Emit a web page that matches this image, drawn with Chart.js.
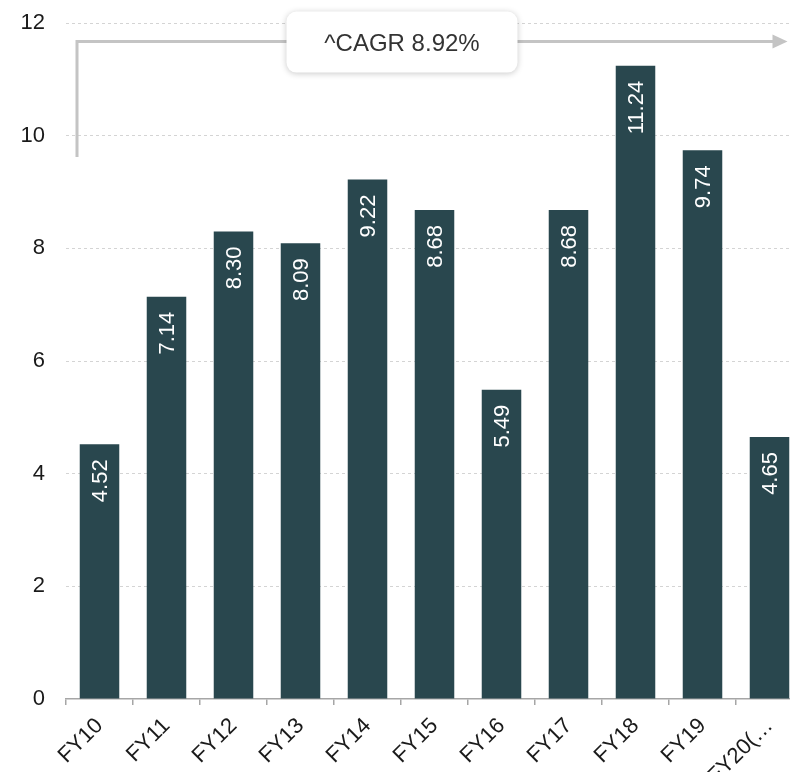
<!DOCTYPE html>
<html>
<head>
<meta charset="utf-8">
<script src="https://cdn.jsdelivr.net/npm/chart.js@4"></script>
<style>
  body { margin: 0; background: #fff; overflow: hidden; }
  #wrap { width: 803px; height: 772px; }
</style>
</head>
<body>
<div id="wrap"><canvas id="revenueChart" width="803" height="772"></canvas></div>
<script>
const years = ['FY10', 'FY11', 'FY12', 'FY13', 'FY14', 'FY15', 'FY16', 'FY17', 'FY18', 'FY19', 'FY20(…'];
const revenue = [4.52, 7.14, 8.30, 8.09, 9.22, 8.68, 5.49, 8.68, 11.24, 9.74, 4.65];
const yTicks = [0, 2, 4, 6, 8, 10, 12];
const cagrText = '^CAGR 8.92%';
// arrow runs from 9.62 up to 11.67 on the value axis
const cagrLevels = [9.62, 11.67];

const barColor = '#29474e';
const fontFamily = '"Liberation Sans", Arial, sans-serif';

// white values written upward inside each bar
const barLabels = {
    id: 'barLabels',
    afterDatasetsDraw(chart) {
        const ctx = chart.ctx;
        const meta = chart.getDatasetMeta(0);
        ctx.save();
        ctx.fillStyle = '#ffffff';
        ctx.font = '22px ' + fontFamily;
        ctx.textAlign = 'right';
        ctx.textBaseline = 'middle';
        meta.data.forEach((bar, i) => {
            ctx.save();
            ctx.translate(bar.x, bar.y + 15);
            ctx.rotate(-Math.PI / 2);
            ctx.fillText(revenue[i].toFixed(2), 0, 1);
            ctx.restore();
        });
        ctx.restore();
    }
};

// CAGR bracket arrow with its rounded label box
const cagrArrow = {
    id: 'cagrArrow',
    afterDraw(chart) {
        const ctx = chart.ctx;
        const x = chart.scales.x;
        const y = chart.scales.y;
        const area = chart.chartArea;
        const yBottom = y.getPixelForValue(cagrLevels[0]);
        const yTop = y.getPixelForValue(cagrLevels[1]);
        const xLeft = area.left + 11;
        const xTip = x.getPixelForValue(years.length - 1) + 18;

        ctx.save();
        ctx.strokeStyle = '#c4c4c4';
        ctx.fillStyle = '#c4c4c4';
        ctx.lineWidth = 3;
        ctx.beginPath();
        ctx.moveTo(xLeft, yBottom);
        ctx.lineTo(xLeft, yTop);
        ctx.lineTo(xTip - 14, yTop);
        ctx.stroke();
        ctx.beginPath();
        ctx.moveTo(xTip, yTop);
        ctx.lineTo(xTip - 15, yTop - 7);
        ctx.lineTo(xTip - 15, yTop + 7);
        ctx.closePath();
        ctx.fill();

        const cx = (x.getPixelForValue(4) + x.getPixelForValue(5)) / 2 + 1;
        const w = 231, h = 61;
        const bx = cx - w / 2, by = yTop - 30;
        ctx.shadowColor = 'rgba(0,0,0,0.22)';
        ctx.shadowBlur = 6;
        ctx.shadowOffsetY = 1;
        ctx.fillStyle = '#ffffff';
        ctx.beginPath();
        ctx.roundRect(bx, by, w, h, 10);
        ctx.fill();
        ctx.shadowColor = 'transparent';
        ctx.fillStyle = '#333333';
        ctx.font = '24px ' + fontFamily;
        ctx.textAlign = 'center';
        ctx.textBaseline = 'middle';
        ctx.fillText(cagrText, cx, by + h / 2 + 2);
        ctx.restore();
    }
};

const ctx = document.getElementById('revenueChart').getContext('2d');
new Chart(ctx, {
    type: 'bar',
    data: {
        labels: years,
        datasets: [{
            data: revenue,
            backgroundColor: barColor,
            barPercentage: 0.59,
            categoryPercentage: 1,
        }]
    },
    options: {
        responsive: false,
        animation: false,
        layout: { padding: { top: 23, right: 0, left: 0, bottom: 0 } },
        plugins: {
            legend: { display: false },
            tooltip: { enabled: false },
        },
        scales: {
            x: {
                grid: {
                    drawOnChartArea: false,
                    tickLength: 6,
                    color: '#a6a6a6',
                    lineWidth: 1.5,
                },
                border: { color: '#a6a6a6', width: 1.5 },
                ticks: {
                    minRotation: 45,
                    maxRotation: 45,
                    padding: 8,
                    color: '#1a1a1a',
                    font: { size: 22, family: fontFamily },
                },
                afterFit(scale) { scale.height = 73; },
            },
            y: {
                min: 0,
                max: 12,
                afterBuildTicks(scale) {
                    scale.ticks = yTicks.map((v) => ({ value: v }));
                },
                // dashed horizontal gridlines
                border: { display: false, dash: [3, 3] },
                grid: {
                    drawTicks: false,
                    color: (c) => (c.tick && c.tick.value === 0 ? 'rgba(0,0,0,0)' : '#d4d4d4'),
                    lineWidth: 1,
                },
                ticks: {
                    padding: 21,
                    color: '#1a1a1a',
                    font: { size: 22, family: fontFamily },
                },
                afterFit(scale) {
                    scale.width = 66;
                    scale.paddingTop = 0;
                    scale.paddingBottom = 0;
                },
            }
        }
    },
    plugins: [barLabels, cagrArrow],
});
</script>
</body>
</html>
